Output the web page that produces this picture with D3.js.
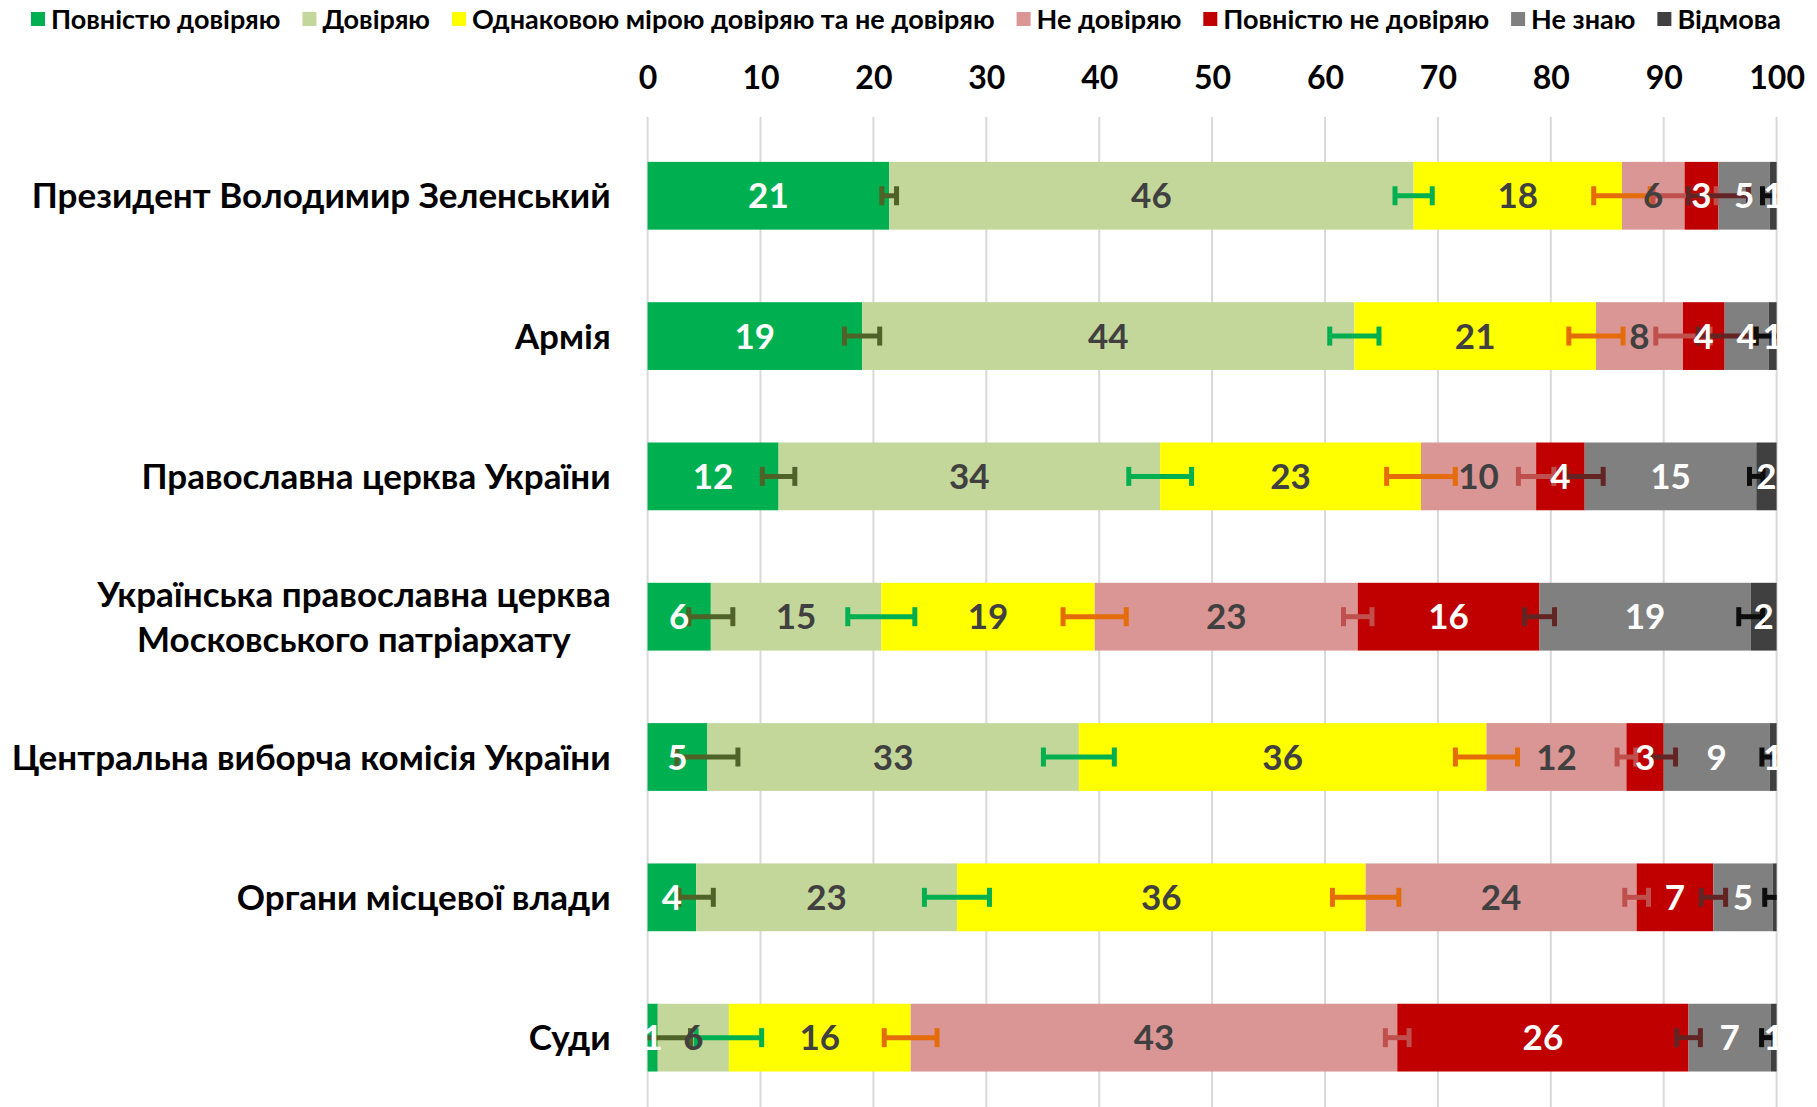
<!DOCTYPE html>
<html><head><meta charset="utf-8">
<script src="https://cdn.jsdelivr.net/npm/d3@7"></script>
<style>
body{margin:0;background:#fff;}
svg{display:block;}
text{font-family:Lato,'Open Sans',sans-serif;font-weight:700;}
</style>
</head><body><svg id="chart" width="1817" height="1107"></svg>
<script>
const categories = ["Президент Володимир Зеленський","Армія","Православна церква України","Українська православна церква\nМосковського патріархату","Центральна виборча комісія України","Органи місцевої влади","Суди"];
const seriesNames = ["Повністю довіряю","Довіряю","Однаковою мірою довіряю та не довіряю","Не довіряю","Повністю не довіряю","Не знаю","Відмова"];
const fullyTrust    = [21.4, 19.0, 11.6, 5.6, 5.3, 4.3, 0.9];
const trust         = [46.45, 43.6, 33.8, 15.1, 32.9, 23.1, 6.3];
const neutral       = [18.45, 21.4, 23.1, 18.9, 36.1, 36.2, 16.1];
const distrust      = [5.55, 7.7, 10.2, 23.3, 12.4, 24.0, 43.1];
const fullyDistrust = [3.0, 3.7, 4.3, 16.1, 3.3, 6.8, 25.8];
const dontKnow      = [4.55, 3.9, 15.2, 18.7, 9.4, 5.25, 7.3];
const refused       = [0.6, 0.7, 1.8, 2.3, 0.6, 0.35, 0.5];
// error margins (± percentage points) shown at the end of each segment
const errFullyTrust    = [0.65, 1.56, 1.44, 1.95, 2.7, 1.52, 2.9];
const errTrust         = [1.65, 2.18, 2.78, 2.97, 3.14, 2.88, 2.9];
const errNeutral       = [2.5, 2.4, 3.04, 2.8, 2.75, 2.94, 2.34];
const errDistrust      = [2.8, 2.4, 1.57, 1.26, 0.83, 1.05, 1.05];
const errFullyDistrust = [2.65, 2.35, 1.64, 1.33, 1.05, 1.08, 1.05];
const errDontKnow      = [0.65, 1.1, 0.6, 1.05, 0.7, 0.7, 0.83];
const tickValues = [0,10,20,30,40,50,60,70,80,90,100];

const seriesValues = [fullyTrust, trust, neutral, distrust, fullyDistrust, dontKnow, refused];
const errors = [errFullyTrust, errTrust, errNeutral, errDistrust, errFullyDistrust, errDontKnow, null];
const colors = ["#00B050","#C4D79B","#FFFF00","#DA9694","#C00000","#808080","#404040"];
const errColors = ["#4F6228","#00B050","#E46C0A","#C0504D","#632523","#0D0D0D",null];
const labelColors = ["#FFFFFF","#404040","#404040","#404040","#FFFFFF","#FFFFFF","#FFFFFF"];

const table = categories.map((c,i)=>{
  const o = {cat:c};
  seriesNames.forEach((s,j)=>{ o[s] = seriesValues[j][i]; });
  return o;
});

const svg = d3.select("#chart");
const x = d3.scaleLinear().domain([0,100]).range([647.6, 1776.6]);
const y = d3.scaleBand().domain(categories).range([125.6, 1107.8]).paddingInner(0.517).paddingOuter(0.2585);

// gridlines
svg.append("g").selectAll("line").data(tickValues).join("line")
  .attr("x1", d=>x(d)).attr("x2", d=>x(d))
  .attr("y1", 117).attr("y2", 1107)
  .attr("stroke", "#D9D9D9").attr("stroke-width", 2);

// axis labels (top)
const axis = d3.axisTop(x).tickValues(tickValues).tickSize(0).tickPadding(0).tickFormat(d3.format("d"));
const axG = svg.append("g").attr("transform","translate(0,88.5)").call(axis);
axG.select(".domain").remove();
axG.selectAll("text").attr("font-size", 32).attr("font-family","Lato,'Open Sans',sans-serif")
  .attr("font-weight",700).attr("fill","#000");

// bars
const stack = d3.stack().keys(seriesNames)(table);
const gBars = svg.append("g");
stack.forEach((layer, j)=>{
  gBars.append("g").attr("fill", colors[j]).selectAll("rect").data(layer).join("rect")
    .attr("x", d=>x(d[0])).attr("width", d=>x(d[1])-x(d[0]))
    .attr("y", d=>y(d.data.cat)).attr("height", y.bandwidth());
});

// error bars
const gErr = svg.append("g");
const capH = 19;
stack.forEach((layer, j)=>{
  if(!errors[j]) return;
  layer.forEach((d,i)=>{
    const e = errors[j][i];
    const cy = y(d.data.cat) + y.bandwidth()/2;
    const lo = d[1]-e, hi = d[1]+e;
    const xl = x(Math.max(0,lo)), xr = x(Math.min(100,hi));
    const g = gErr.append("g").attr("stroke", errColors[j]).attr("stroke-width", 5);
    g.append("line").attr("x1", xl).attr("x2", xr).attr("y1", cy).attr("y2", cy);
    if(lo >= 0) g.append("line").attr("x1", x(lo)).attr("x2", x(lo)).attr("y1", cy-capH/2).attr("y2", cy+capH/2);
    if(hi <= 100) g.append("line").attr("x1", x(hi)).attr("x2", x(hi)).attr("y1", cy-capH/2).attr("y2", cy+capH/2);
  });
});

// data labels
const gLab = svg.append("g");
stack.forEach((layer, j)=>{
  gLab.append("g").selectAll("text").data(layer.filter(d=>Math.round(d[1]-d[0])>0)).join("text")
    .attr("x", d=>(x(d[0])+x(d[1]))/2)
    .attr("y", d=>y(d.data.cat)+y.bandwidth()/2)
    .attr("dy","0.36em").attr("text-anchor","middle")
    .attr("font-size", 35).attr("fill", labelColors[j])
    .text(d=>Math.round(d[1]-d[0]));
});

// category labels
const labelRight = 610.7;
const gCat = svg.append("g");
categories.forEach(c=>{
  const lines = c.split("\n");
  const cy = y(c) + y.bandwidth()/2;
  const lh = 45;
  const t = gCat.append("text").attr("font-size", 35).attr("fill","#000");
  const tspans = lines.map((ln,k)=> t.append("tspan").attr("y", cy + (k-(lines.length-1)/2)*lh).attr("dy","0.36em").text(ln));
  if(lines.length===1){
    t.attr("text-anchor","end"); tspans[0].attr("x", labelRight);
  } else {
    const w = Math.max(...tspans.map(s=>s.node().getComputedTextLength()));
    t.attr("text-anchor","middle"); tspans.forEach(s=>s.attr("x", labelRight - w/2));
  }
});

// legend
const gLeg = svg.append("g");
let lx = 31; const ly = 19;
seriesNames.forEach((s,j)=>{
  gLeg.append("rect").attr("x", lx).attr("y", ly-7).attr("width",14).attr("height",14).attr("fill", colors[j]);
  const t = gLeg.append("text").attr("x", lx+20).attr("y", ly).attr("dy","0.36em")
    .attr("font-size", 27).attr("fill","#000").text(s);
  lx += 20 + t.node().getComputedTextLength() + 22;
});
</script>
</body></html>
